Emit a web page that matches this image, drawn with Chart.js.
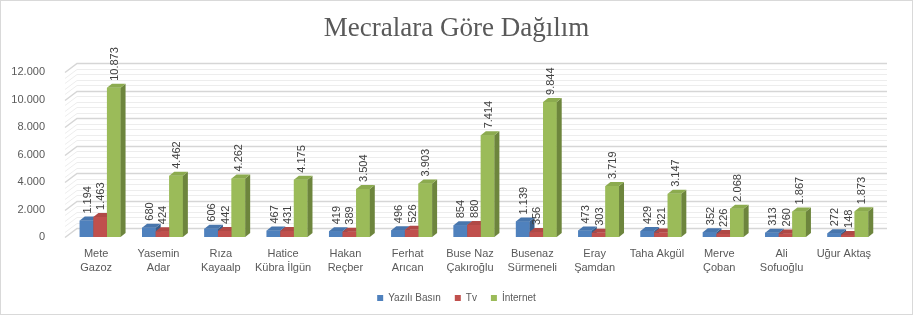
<!DOCTYPE html>
<html lang="tr">
<head>
<meta charset="utf-8">
<title>Mecralara Göre Dağılım</title>
<script src="https://cdn.jsdelivr.net/npm/chart.js@4"></script>
<style>
  html, body { margin: 0; padding: 0; background: #fff; }
  #wrap { width: 913px; height: 317px; }
</style>
</head>
<body>
<div id="wrap"><canvas id="chart" width="913" height="317"></canvas></div>
<script>
const categories = [
  ["Mete", "Gazoz"], ["Yasemin", "Adar"], ["Rıza", "Kayaalp"], ["Hatice", "Kübra İlgün"],
  ["Hakan", "Reçber"], ["Ferhat", "Arıcan"], ["Buse Naz", "Çakıroğlu"], ["Busenaz", "Sürmeneli"],
  ["Eray", "Şamdan"], "Taha Akgül", ["Merve", "Çoban"], ["Ali", "Sofuoğlu"], "Uğur Aktaş"
];
const seriesNames = ["Yazılı Basın", "Tv", "İnternet"];
const yaziliBasin = [1194, 680, 606, 467, 419, 496, 854, 1139, 473, 429, 352, 313, 272];
const tv = [1463, 424, 442, 431, 389, 526, 880, 356, 303, 321, 226, 260, 148];
const internet = [10873, 4462, 4262, 4175, 3504, 3903, 7414, 9844, 3719, 3147, 2068, 1867, 1873];
const Y_MAX = 12000;
const MAJOR_STEP = 2000;
const MINOR_STEP = 400;

const FRONT = ["#4f81bd", "#c0504d", "#9bbb59"];
const TOP = ["#4876ad", "#b04946", "#8cab4f"];
const SIDE = ["#385d8a", "#8c3836", "#6d853d"];

const FONT = "'Liberation Sans', Arial, sans-serif";
const DX = 5, DY = -4;      // bar depth
const WX = 12, WY = -9;     // wall depth
const SHIFT = 4;            // bars sit a bit right of the front edge

const fmt = v => String(v).replace(/\B(?=(\d{3})+(?!\d))/g, ".");

const wallPlugin = {
  id: "wall",
  beforeDatasetsDraw(chart) {
    const { ctx, chartArea: a, scales: { y } } = chart;
    const fl = a.left - SHIFT, fr = a.right - SHIFT;
    ctx.save();
    for (let v = 0; v <= Y_MAX; v += MINOR_STEP) {
      const py = Math.round(y.getPixelForValue(v)) + 0.5;
      const major = v % MAJOR_STEP === 0;
      ctx.strokeStyle = major ? "#d6d6d6" : "#ededed";
      ctx.lineWidth = major ? 1.5 : 1;
      ctx.beginPath();
      ctx.moveTo(fl, py);
      ctx.lineTo(fl + WX, py + WY);
      ctx.lineTo(fr + WX, py + WY);
      ctx.stroke();
    }
    ctx.restore();
  }
};

const bars3dPlugin = {
  id: "bars3d",
  afterDatasetsDraw(chart) {
    const ctx = chart.ctx;
    const n = chart.data.labels.length;
    const sets = chart.data.datasets.length;
    ctx.save();
    for (let i = 0; i < n; i++) {
      for (let d = 0; d < sets; d++) {
        const el = chart.getDatasetMeta(d).data[i];
        const { x, y, base, width } = el.getProps(["x", "y", "base", "width"], true);
        const x0 = x - width / 2, x1 = x + width / 2;
        ctx.fillStyle = FRONT[d];
        ctx.fillRect(x0, y, width, base - y);
        ctx.fillStyle = SIDE[d];
        ctx.beginPath();
        ctx.moveTo(x1, y); ctx.lineTo(x1 + DX, y + DY);
        ctx.lineTo(x1 + DX, base + DY); ctx.lineTo(x1, base);
        ctx.closePath(); ctx.fill();
        ctx.fillStyle = TOP[d];
        ctx.beginPath();
        ctx.moveTo(x0, y); ctx.lineTo(x1, y);
        ctx.lineTo(x1 + DX, y + DY); ctx.lineTo(x0 + DX, y + DY);
        ctx.closePath(); ctx.fill();
      }
    }
    // value labels, rotated
    ctx.fillStyle = "#404040";
    ctx.font = "11px " + FONT;
    ctx.textAlign = "left";
    ctx.textBaseline = "middle";
    for (let d = 0; d < sets; d++) {
      const ds = chart.data.datasets[d];
      chart.getDatasetMeta(d).data.forEach((el, i) => {
        ctx.save();
        ctx.translate(el.x + 1, el.y - 7);
        ctx.rotate(-Math.PI / 2);
        ctx.fillText(fmt(ds.data[i]), 0, 0);
        ctx.restore();
      });
    }
    ctx.restore();
  }
};

const borderPlugin = {
  id: "frame",
  afterDraw(chart) {
    const ctx = chart.ctx;
    ctx.save();
    ctx.strokeStyle = "#d9d9d9";
    ctx.lineWidth = 1;
    ctx.strokeRect(0.5, 0.5, chart.width - 1, chart.height - 3);
    ctx.restore();
  }
};

new Chart(document.getElementById("chart"), {
  type: "bar",
  data: {
    labels: categories,
    datasets: [yaziliBasin, tv, internet].map((vals, i) => ({
      label: seriesNames[i],
      data: vals,
      backgroundColor: FRONT[i],
      borderWidth: 0,
      categoryPercentage: 0.655,
      barPercentage: 1
    }))
  },
  options: {
    responsive: false,
    animation: false,
    layout: { padding: { left: 0, right: 0, top: 0, bottom: 4 } },
    plugins: {
      title: {
        display: true,
        text: "Mecralara Göre Dağılım",
        color: "#595959",
        font: { family: "'Liberation Serif', 'Times New Roman', serif", size: 27, weight: "normal" },
        padding: { top: 13, bottom: 27 }
      },
      legend: {
        position: "bottom",
        labels: {
          boxWidth: 6, boxHeight: 6, padding: 14,
          color: "#595959",
          font: { family: FONT, size: 10 }
        }
      },
      tooltip: { enabled: false }
    },
    scales: {
      x: {
        grid: { display: false },
        border: { display: false },
        ticks: {
          color: "#595959", font: { family: FONT, size: 11, lineHeight: 1.36 },
          maxRotation: 0, autoSkip: false, padding: 1, labelOffset: -SHIFT
        },
        afterFit: s => { s.height = 42; }
      },
      y: {
        min: 0, max: Y_MAX,
        grid: { display: false },
        border: { display: false },
        ticks: {
          stepSize: MAJOR_STEP, color: "#595959", padding: 16,
          font: { family: FONT, size: 11 },
          callback: v => fmt(v)
        },
        afterFit: s => { s.width = 69; }
      },
      // empty right-hand margin so the title and legend stay centred on the page
      yRight: {
        position: "right",
        grid: { display: false },
        border: { display: false },
        ticks: { display: false },
        afterFit: s => { s.width = 34; }
      }
    }
  },
  plugins: [wallPlugin, bars3dPlugin, borderPlugin]
});
</script>
</body>
</html>
